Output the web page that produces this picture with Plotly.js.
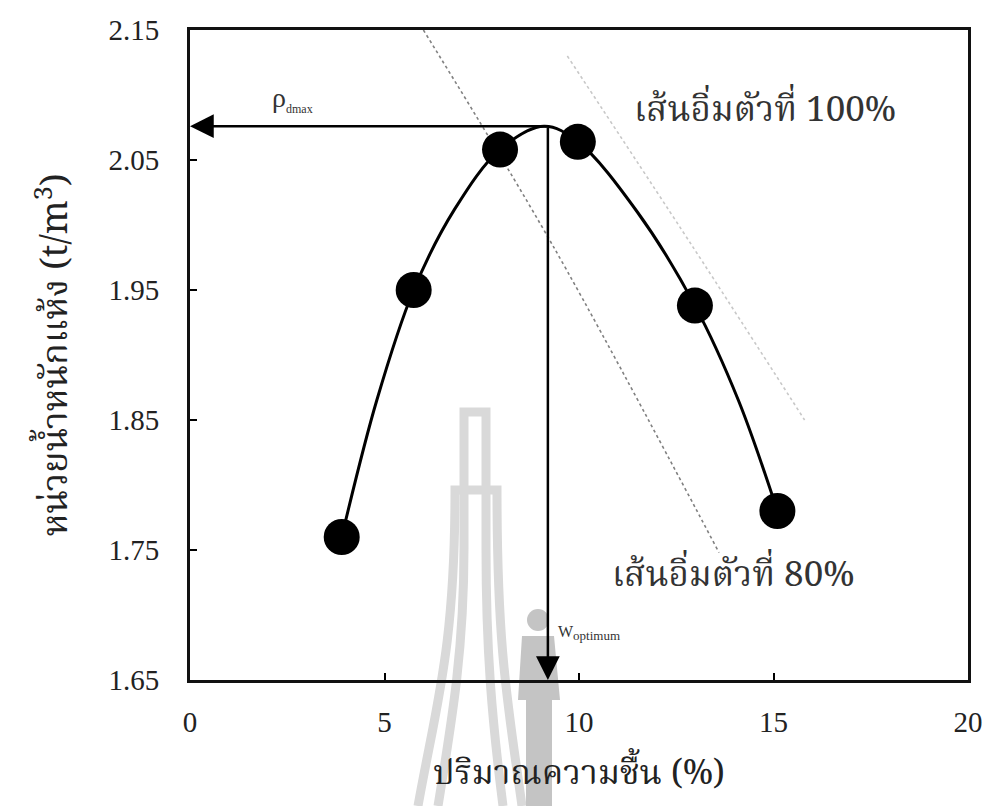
<!DOCTYPE html>
<html>
<head>
<meta charset="utf-8">
<script src="https://cdn.plot.ly/plotly-3.0.1.min.js"></script>
<style>html,body{margin:0;padding:0;background:#fff;}</style>
</head>
<body>
<div id="chart" style="width:986px;height:806px;"></div>
<script>
// Measured compaction points (moisture %, dry density t/m3)
const moisture = [3.9, 5.75, 7.97, 9.97, 12.98, 15.1];
const dryDensity = [1.76, 1.95, 2.058, 2.064, 1.938, 1.78];

// Fitted compaction curve
const curveX = [3.9, 4.8, 5.75, 6.8, 7.97, 9.1, 9.97, 11.5, 12.98, 14.1, 15.1];
const curveY = [1.76, 1.865, 1.95, 2.012, 2.058, 2.076, 2.064, 2.01, 1.938, 1.865, 1.78];

// Saturation lines
const sat80X = [6.0, 9.33, 13.6];
const sat80Y = [2.15, 1.984, 1.748];
const sat100X = [9.7, 12.93, 15.8];
const sat100Y = [2.13, 1.983, 1.85];

// Optimum values
const rhoDmax = 2.076;
const wOptimum = 9.2;

// Axis ticks
const xTicks = [0, 5, 10, 15, 20];
const yTicks = [1.65, 1.75, 1.85, 1.95, 2.05, 2.15];
const yTickText = ['1.65', '1.75', '1.85', '1.95', '2.05', '2.15'];

const thaiFont = '"Noto Serif Thai", Norasi, Kinnari, Garuda, Loma, "Noto Sans Thai", "Noto Sans", sans-serif';
const serifFont = '"Liberation Serif", "DejaVu Serif", serif';

// Faint university watermark behind the chart (document artefact)
const watermarkSvg =
  '<svg xmlns="http://www.w3.org/2000/svg" width="986" height="806" viewBox="0 0 986 806">' +
  '<g fill="none" stroke="#d9d9d9" stroke-width="9">' +
  '<path d="M464,548 V412 H486 V548"/>' +
  '<path d="M418,806 C436,705 455,650 455,490 H497 C497,650 508,705 522,806"/>' +
  '<path d="M438,806 C452,720 464,650 464,548"/>' +
  '<path d="M486,548 C486,650 492,720 503,806"/>' +
  '</g>' +
  '<g fill="#c4c4c4">' +
  '<circle cx="538" cy="620" r="11"/>' +
  '<path d="M522,636 H554 L560,700 L552,700 L552,806 H526 L526,700 L518,700 Z"/>' +
  '</g></svg>';

const traces = [
  {x: sat80X, y: sat80Y, mode: 'lines', line: {color: '#808080', width: 1.6, dash: 'dot', shape: 'spline'}, hoverinfo: 'skip'},
  {x: sat100X, y: sat100Y, mode: 'lines', line: {color: '#c8c8c8', width: 1.6, dash: 'dot', shape: 'spline'}, hoverinfo: 'skip'},
  {x: curveX, y: curveY, mode: 'lines', line: {color: '#000', width: 3, shape: 'spline', smoothing: 1}},
  {x: moisture, y: dryDensity, mode: 'markers', marker: {color: '#000', size: 36}}
];

const layout = {
  width: 986, height: 806,
  margin: {l: 190, r: 18, t: 30, b: 126},
  paper_bgcolor: '#fff', plot_bgcolor: 'rgba(0,0,0,0)',
  showlegend: false,
  images: [{
    source: 'data:image/svg+xml;charset=utf-8,' + encodeURIComponent(watermarkSvg),
    xref: 'paper', yref: 'paper', x: -190 / 778, y: 1 + 30 / 650, sizex: 986 / 778, sizey: 806 / 650,
    xanchor: 'left', yanchor: 'top', sizing: 'stretch', layer: 'below', opacity: 1
  }],
  xaxis: {
    range: [0, 20], tickvals: xTicks, ticks: 'inside', ticklen: 7, tickwidth: 2, tickcolor: '#000',
    showline: true, mirror: true, linewidth: 3, linecolor: '#111', showgrid: false, zeroline: false,
    tickfont: {family: serifFont, size: 29, color: '#222'}, ticklabelstandoff: 14,
    title: {text: 'ปริมาณความชื้น (%)', font: {family: thaiFont, size: 34, color: '#222'}, standoff: 24}
  },
  yaxis: {
    range: [1.65, 2.15], tickvals: yTicks, ticktext: yTickText, ticks: 'inside', ticklen: 7, tickwidth: 2, tickcolor: '#000',
    showline: true, mirror: true, linewidth: 3, linecolor: '#111', showgrid: false, zeroline: false,
    tickfont: {family: serifFont, size: 29, color: '#222'}, ticklabelstandoff: 22,
    title: {text: 'หน่วยน้ำหนักแห้ง (t/m<sup>3</sup>)', font: {family: thaiFont, size: 36, color: '#222'}, standoff: 30}
  },
  annotations: [
    {x: 0, y: rhoDmax, ax: wOptimum, ay: rhoDmax, xref: 'x', yref: 'y', axref: 'x', ayref: 'y',
     text: '', showarrow: true, arrowhead: 2, arrowsize: 1.9, arrowwidth: 2.5, arrowcolor: '#000', standoff: 0, startstandoff: 0},
    {x: wOptimum, y: 1.65, ax: wOptimum, ay: rhoDmax, xref: 'x', yref: 'y', axref: 'x', ayref: 'y',
     text: '', showarrow: true, arrowhead: 2, arrowsize: 1.9, arrowwidth: 2.5, arrowcolor: '#000', standoff: 0, startstandoff: 0},
    {x: 2.05, y: 2.097, xref: 'x', yref: 'y', showarrow: false, xanchor: 'left',
     text: 'ρ<sub><span style="font-size:12px">dmax</span></sub>', font: {family: serifFont, size: 28, color: '#333'}},
    {x: wOptimum + 0.2, y: 1.686, xref: 'x', yref: 'y', showarrow: false, xanchor: 'left',
     text: 'W<sub><span style="font-size:13px">optimum</span></sub>', font: {family: serifFont, size: 16, color: '#333'}},
    {x: 11.35, y: 2.087, xref: 'x', yref: 'y', showarrow: false, xanchor: 'left',
     text: 'เส้นอิ่มตัวที่ 100%', font: {family: thaiFont, size: 35, color: '#333'}},
    {x: 10.8, y: 1.752, xref: 'x', yref: 'y', showarrow: false, xanchor: 'left', yanchor: 'top',
     text: 'เส้นอิ่มตัวที่ 80%', font: {family: thaiFont, size: 35, color: '#333'}}
  ]
};

Plotly.newPlot('chart', traces, layout, {displayModeBar: false, staticPlot: true});
</script>
</body>
</html>
